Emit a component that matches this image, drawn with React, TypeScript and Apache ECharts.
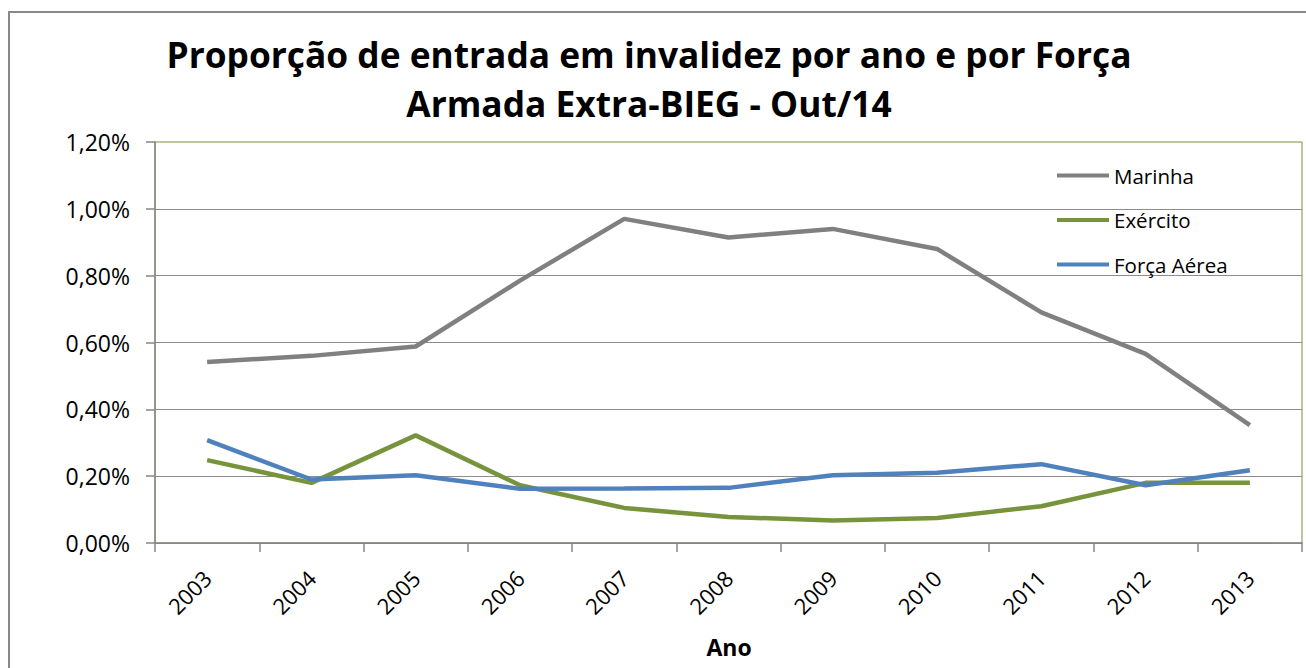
import React, { useEffect, useRef } from "react";
import * as echarts from "echarts";

const years = ["2003", "2004", "2005", "2006", "2007", "2008", "2009", "2010", "2011", "2012", "2013"];
const marinha = [0.542, 0.56, 0.588, 0.785, 0.97, 0.914, 0.94, 0.88, 0.69, 0.566, 0.353];
const exercito = [0.248, 0.18, 0.322, 0.173, 0.105, 0.078, 0.067, 0.075, 0.11, 0.18, 0.18];
const forcaAerea = [0.308, 0.19, 0.203, 0.162, 0.163, 0.165, 0.203, 0.21, 0.236, 0.173, 0.218];
const seriesNames = ["Marinha", "Exército", "Força Aérea"];
const seriesColors = ["#808080", "#77933C", "#4F81BD"];
const titleText = "Proporção de entrada em invalidez por ano e por Força\nArmada Extra-BIEG - Out/14";
const xAxisTitle = "Ano";

const FONT = "'Open Sans', 'Noto Sans', sans-serif";

export default function App() {
  const ref = useRef<HTMLDivElement>(null);
  useEffect(() => {
    if (!ref.current) return;
    const chart = echarts.init(ref.current, null, { renderer: "svg" });
    const data = [marinha, exercito, forcaAerea];
    chart.setOption({
      animation: false,
      backgroundColor: "#ffffff",
      textStyle: { fontFamily: FONT },
      title: {
        text: titleText,
        left: 649,
        top: 29,
        padding: 0,
        textAlign: "center",
        textStyle: {
          fontFamily: FONT,
          fontSize: 35.3,
          fontWeight: "bold",
          color: "#000000",
          lineHeight: 49,
        },
      },
      legend: {
        orient: "vertical",
        left: 1052,
        top: 160,
        itemWidth: 52,
        itemHeight: 20,
        itemGap: 23.5,
        data: seriesNames.map((n, i) => ({
          name: n,
          icon: "path://M0,8 L52,8 L52,12 L0,12 Z",
          itemStyle: { color: seriesColors[i] },
        })),
        textStyle: { fontFamily: FONT, fontSize: 20.5, color: "#000000", lineHeight: 20 },
      },
      grid: {
        left: 155,
        right: 4,
        top: 142,
        bottom: 125,
        show: true,
        borderColor: "#77933C",
        borderWidth: 1,
        backgroundColor: "transparent",
      },
      xAxis: {
        type: "category",
        data: years,
        boundaryGap: true,
        axisLine: { lineStyle: { color: "#868686", width: 1.5 } },
        axisTick: { show: true, length: 9, lineStyle: { color: "#868686", width: 1.5 } },
        axisLabel: {
          rotate: 45,
          margin: 31,
          fontFamily: FONT,
          fontSize: 22,
          color: "#000000",
        },
      },
      yAxis: {
        type: "value",
        min: 0,
        max: 1.2,
        interval: 0.2,
        axisLine: { show: true, lineStyle: { color: "#868686", width: 1.5 } },
        axisTick: { show: true, length: 9, lineStyle: { color: "#868686", width: 1.5 } },
        splitLine: { show: true, showMaxLine: false, lineStyle: { color: "#8c8c8c", width: 1.2 } },
        axisLabel: {
          margin: 25,
          fontFamily: FONT,
          fontSize: 23,
          color: "#000000",
          formatter: (v: number) => v.toFixed(2).replace(".", ",") + "%",
        },
      },
      graphic: [
        {
          type: "rect",
          shape: { x: 9, y: 12, width: 1400, height: 700 },
          style: { fill: "none", stroke: "#898989", lineWidth: 2 },
          silent: true,
        },
        {
          type: "text",
          x: 729,
          y: 647,
          style: {
            text: xAxisTitle,
            fontFamily: FONT,
            fontSize: 23,
            fontWeight: "bold",
            fill: "#000000",
            align: "center",
            verticalAlign: "middle",
          },
        },
      ],
      series: seriesNames.map((n, i) => ({
        name: n,
        type: "line",
        data: data[i],
        symbol: "none",
        lineStyle: { color: seriesColors[i], width: 4.5 },
        itemStyle: { color: seriesColors[i] },
      })),
    });
    return () => chart.dispose();
  }, []);
  return (
    <div
      ref={ref}
      style={{ position: "fixed", left: 0, top: 0, width: 1306, height: 668 }}
    />
  );
}
